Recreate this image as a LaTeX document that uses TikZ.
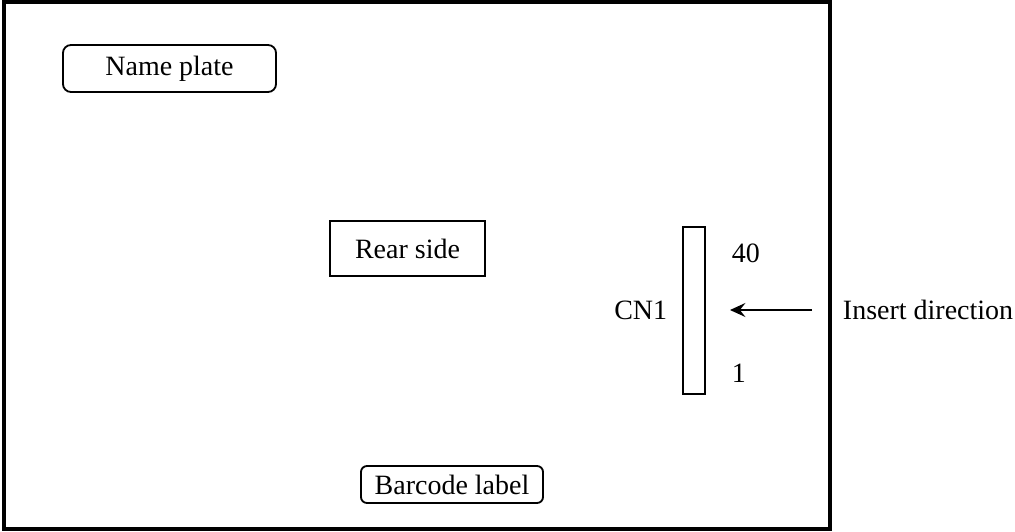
\documentclass[tikz,border=0pt]{standalone}
\usepackage{fontspec}
\setmainfont{Liberation Serif}
\usepackage{tikz}
\usetikzlibrary{arrows.meta,shapes,positioning}
\usepackage{xcolor}
\definecolor{pcbblack}{RGB}{0,0,0}
\tikzstyle{frame} = [draw=pcbblack, line width=2.5pt]
\tikzstyle{label} = [font=\fontsize{19.9}{24}\selectfont, text=pcbblack]
\tikzstyle{sticker} = [label, rectangle, rounded corners=0.2cm, draw=pcbblack, line width=1.3pt, text centered]
\tikzstyle{plainbox} = [label, rectangle, draw=pcbblack, line width=1.3pt, text centered]
\tikzstyle{arrow} = [line width=1pt, -{Stealth[length=11pt,width=10pt,inset=4pt]}, color=pcbblack]

\begin{document}
\begin{tikzpicture}[x=0.025cm, y=-0.025cm]
\useasboundingbox (0,0) rectangle (1015,532);
% Board outline
\draw[frame] (4,2) rectangle (830,529);

% Labels on the board
\node (plate) [sticker, minimum width=5.325cm, minimum height=1.175cm] at (169.5,68.5) {Name plate};
\node (rear) [plainbox, minimum width=3.875cm, minimum height=1.375cm] at (407.5,248.5) {Rear side};
\node (barcode) [sticker, rounded corners=0.15cm, minimum width=4.55cm, minimum height=0.925cm, inner sep=0pt] at (452,484.5) {Barcode label};

% Connector
\node (cn) [plainbox, minimum width=0.55cm, minimum height=4.175cm, inner sep=0pt] at (694,310.5) {};
\node (cnname) [label, left=0.25cm of cn] {CN1};
\node (pinlast) [label, anchor=west] at (727,253) {40};
\node (pinfirst) [label, anchor=west] at (727,373) {1};

% Insert direction
\node (insert) [label, anchor=west] at (838,310) {Insert direction};
\coordinate (tail) at (812,310);
\coordinate (tip) at (730,310);
\draw[arrow] (tail) -- (tip);
\end{tikzpicture}
\end{document}
